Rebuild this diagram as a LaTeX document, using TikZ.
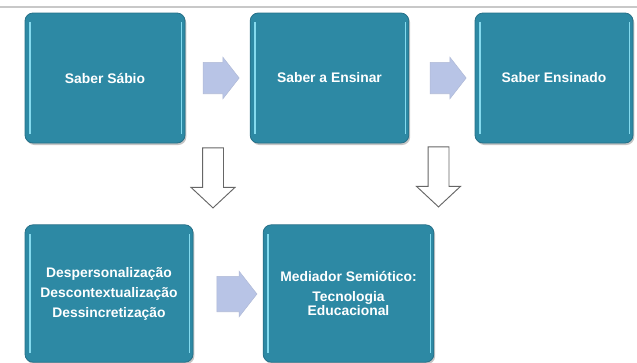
\documentclass[tikz,border=0pt]{standalone}
\usepackage{fontspec}
\setsansfont{Liberation Sans}
\usetikzlibrary{shapes.arrows,shadows}

\definecolor{boxteal}{RGB}{45,137,164}
\definecolor{boxedge}{RGB}{38,112,136}
\definecolor{boxlight}{RGB}{132,218,238}
\definecolor{flowblue}{RGB}{184,196,230}
\definecolor{topline}{RGB}{200,200,200}

\begin{document}
\begin{tikzpicture}[x=0.75pt, y=-0.75pt,
    stage/.style={rectangle, rounded corners=6pt, fill=boxteal, draw=boxedge, line width=0.6pt,
      text=white, align=center, inner sep=2pt,
      font=\sffamily\bfseries\fontsize{10.4}{15}\selectfont,
      drop shadow={shadow xshift=1pt, shadow yshift=-1.5pt, fill=black!45},
      path picture={
        \draw[boxlight, line width=1.4pt]
          ([xshift=3.5pt,yshift=-7pt]path picture bounding box.north west) --
          ([xshift=3.5pt,yshift=7pt]path picture bounding box.south west);
        \draw[boxlight, line width=1.2pt]
          ([xshift=-2.5pt,yshift=-7pt]path picture bounding box.north east) --
          ([xshift=-2.5pt,yshift=7pt]path picture bounding box.south east);
      }},
    flow/.style={single arrow, fill=flowblue, draw=flowblue!85!gray, line width=0.4pt,
      inner xsep=0pt, inner ysep=11.6pt, minimum height=27pt,
      single arrow head extend=3.75pt, single arrow tip angle=104},
    down/.style={single arrow, shape border rotate=270, fill=white, draw=gray!80!black,
      line width=0.7pt, inner xsep=7.5pt, inner ysep=0pt, minimum height=45pt,
      single arrow head extend=8.6pt, single arrow tip angle=94}]

  \useasboundingbox (0,0) rectangle (637,362);
  \draw[topline, line width=0.8pt] (0,7) -- (637,7);

  % upper row
  \node[stage, minimum width=120pt, minimum height=97.5pt] (sabio) at (105,78) {Saber Sábio};
  \node[stage, minimum width=119pt, minimum height=97.5pt] (ensinar) at (329.5,78) {Saber a Ensinar};
  \node[stage, minimum width=118.5pt, minimum height=97.5pt] (ensinado) at (554,78) {Saber Ensinado};

  \node[flow] (f1) at (215,78) {};
  \node[flow] (f2) at (442,78) {};

  % lower row
  \node[down] (d1) at (213,173) {};
  \node[down] (d2) at (438.5,172) {};

  \node[stage, minimum width=126pt, minimum height=103pt] (processos) at (109,293.5)
    {Despersonalização\\Descontextualização\\Dessincretização};
  \node[stage, minimum width=128pt, minimum height=103pt,
    font=\sffamily\bfseries\fontsize{10.4}{9.5}\selectfont] (mediador) at (348.5,293.5)
    {Mediador Semiótico:\\[5pt]Tecnologia\\Educacional};

  \node[flow, inner ysep=13.1pt, minimum height=30pt] (f3) at (230,294) {};
\end{tikzpicture}
\end{document}
